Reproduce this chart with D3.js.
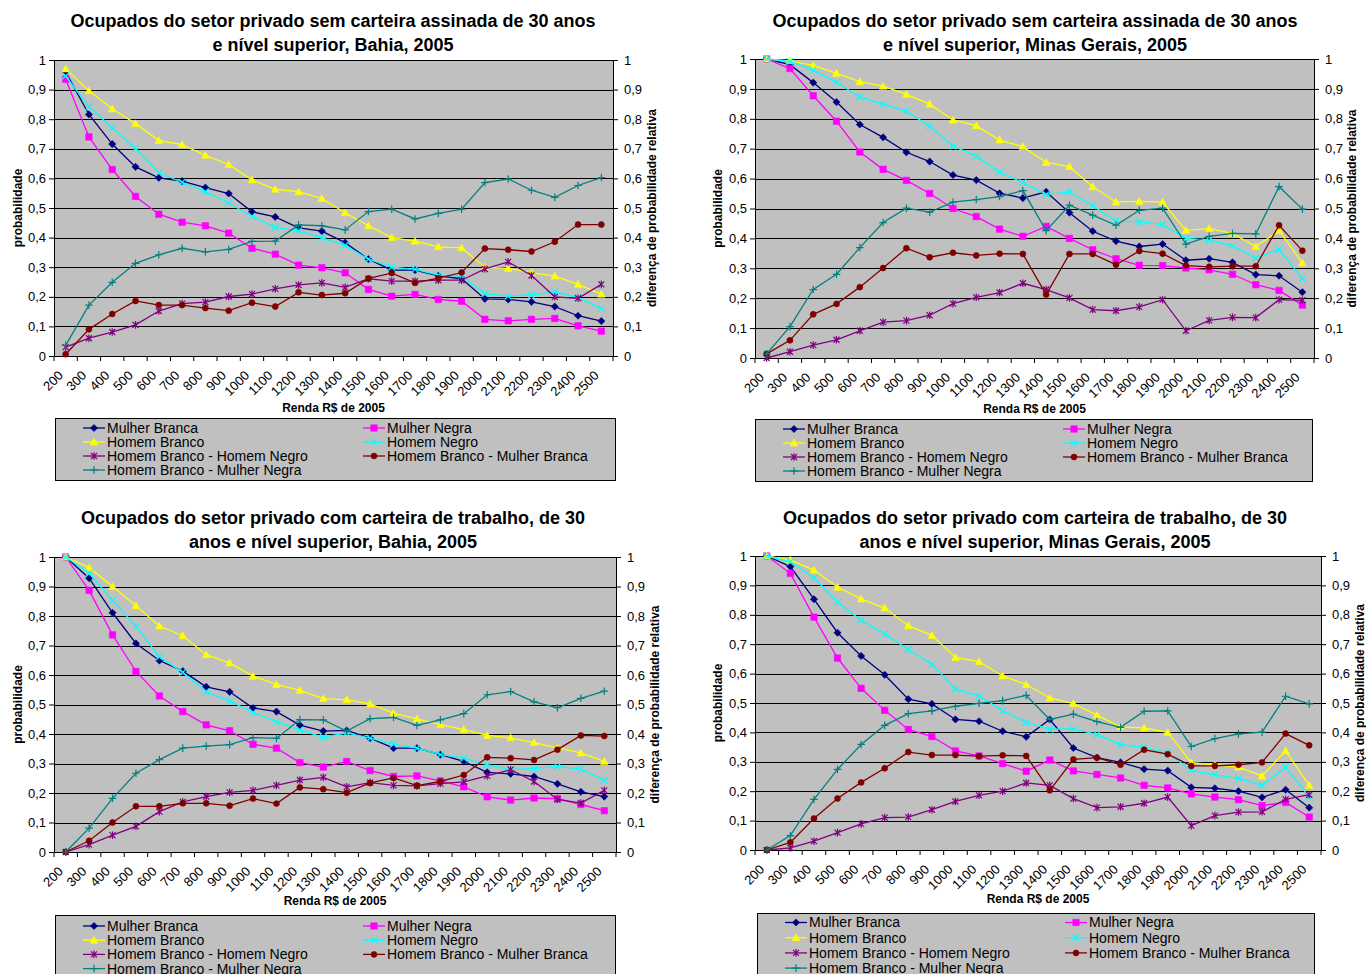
<!DOCTYPE html>
<html>
<head>
<meta charset="utf-8">
<script src="https://cdn.jsdelivr.net/npm/d3@7"></script>
<style>
  body { margin: 0; background: #fff; }
  svg text { font-family: "Liberation Sans", Arial, sans-serif; fill: #000; }
</style>
</head>
<body>
<div id="canvas"></div>
<script>
// DATA
const incomeLabels = ["200","300","400","500","600","700","800","900","1000","1100","1200","1300",
  "1400","1500","1600","1700","1800","1900","2000","2100","2200","2300","2400","2500"];

const seriesNames = ["Mulher Branca", "Mulher Negra", "Homem Branco", "Homem Negro",
  "Homem Branco - Homem Negro", "Homem Branco - Mulher Branca", "Homem Branco - Mulher Negra"];

// Bahia, sem carteira
const baSemMB = [0.96,0.816,0.716,0.639,0.602,0.591,0.569,0.549,0.487,0.47,0.433,0.422,0.383,0.327,0.29,0.29,0.271,0.261,0.193,0.191,0.183,0.167,0.136,0.118];
const baSemMN = [0.935,0.74,0.63,0.539,0.479,0.452,0.44,0.415,0.364,0.344,0.307,0.298,0.281,0.225,0.202,0.208,0.191,0.185,0.124,0.119,0.124,0.127,0.102,0.084];
const baSemHB = [0.97,0.896,0.835,0.785,0.728,0.714,0.678,0.647,0.595,0.563,0.555,0.532,0.484,0.44,0.4,0.388,0.369,0.365,0.3,0.296,0.282,0.27,0.242,0.209];
const baSemHN = [0.946,0.842,0.771,0.701,0.619,0.587,0.555,0.517,0.472,0.435,0.423,0.399,0.374,0.327,0.3,0.293,0.273,0.27,0.211,0.202,0.206,0.217,0.197,0.16];
const baSemHBHN = [0.03,0.06,0.081,0.105,0.152,0.177,0.182,0.201,0.209,0.227,0.24,0.247,0.232,0.261,0.253,0.253,0.256,0.256,0.294,0.318,0.272,0.2,0.195,0.242];
const baSemHBMB = [0.006,0.09,0.142,0.186,0.172,0.172,0.162,0.153,0.18,0.167,0.215,0.206,0.212,0.262,0.28,0.247,0.263,0.282,0.363,0.359,0.353,0.386,0.444,0.444];
const baSemHBMN = [0.036,0.172,0.249,0.313,0.342,0.364,0.352,0.36,0.387,0.388,0.443,0.44,0.426,0.488,0.496,0.463,0.482,0.496,0.586,0.598,0.56,0.536,0.576,0.603];

// Minas Gerais, sem carteira
const mgSemMB = [1.0,0.981,0.921,0.856,0.781,0.738,0.688,0.657,0.612,0.595,0.551,0.535,0.556,0.486,0.424,0.391,0.373,0.381,0.327,0.332,0.32,0.279,0.275,0.22];
const mgSemMN = [1.0,0.968,0.877,0.792,0.689,0.631,0.594,0.55,0.5,0.473,0.431,0.407,0.44,0.4,0.362,0.332,0.31,0.309,0.301,0.295,0.28,0.245,0.226,0.177];
const mgSemHB = [1.0,0.994,0.979,0.952,0.924,0.909,0.882,0.849,0.796,0.777,0.729,0.707,0.654,0.64,0.573,0.522,0.524,0.521,0.427,0.433,0.417,0.373,0.426,0.318];
const mgSemHN = [1.0,0.992,0.963,0.922,0.873,0.849,0.825,0.775,0.709,0.675,0.621,0.587,0.547,0.555,0.509,0.458,0.456,0.446,0.4,0.394,0.375,0.334,0.363,0.266];
const mgSemHBHN = [0,0.021,0.043,0.061,0.091,0.12,0.125,0.143,0.182,0.203,0.219,0.25,0.229,0.201,0.162,0.158,0.171,0.195,0.091,0.126,0.136,0.135,0.195,0.193];
const mgSemHBMB = [0.014,0.059,0.146,0.181,0.237,0.301,0.367,0.337,0.352,0.343,0.349,0.348,0.212,0.348,0.348,0.312,0.358,0.349,0.309,0.305,0.307,0.307,0.444,0.359];
const mgSemHBMN = [0.014,0.105,0.229,0.28,0.369,0.453,0.501,0.488,0.521,0.53,0.54,0.56,0.426,0.511,0.478,0.444,0.494,0.501,0.381,0.407,0.417,0.415,0.573,0.498];

// Bahia, com carteira
const baComMB = [1.0,0.928,0.811,0.707,0.649,0.613,0.56,0.543,0.488,0.476,0.43,0.41,0.412,0.386,0.352,0.352,0.33,0.307,0.27,0.265,0.256,0.231,0.204,0.188];
const baComMN = [1.0,0.887,0.736,0.612,0.529,0.476,0.431,0.411,0.365,0.352,0.303,0.288,0.307,0.276,0.256,0.258,0.241,0.221,0.187,0.176,0.183,0.181,0.161,0.14];
const baComHB = [1.0,0.964,0.9,0.835,0.766,0.733,0.669,0.641,0.596,0.568,0.548,0.52,0.516,0.502,0.471,0.451,0.432,0.415,0.395,0.387,0.371,0.353,0.336,0.307];
const baComHN = [1.0,0.945,0.853,0.765,0.662,0.609,0.543,0.512,0.473,0.441,0.414,0.389,0.404,0.386,0.365,0.352,0.33,0.318,0.296,0.279,0.283,0.29,0.281,0.243];
const baComHBHN = [0,0.025,0.057,0.087,0.137,0.17,0.188,0.202,0.209,0.226,0.244,0.253,0.221,0.235,0.226,0.224,0.232,0.238,0.258,0.279,0.239,0.178,0.166,0.209];
const baComHBMB = [0,0.038,0.1,0.155,0.155,0.165,0.165,0.157,0.181,0.164,0.219,0.213,0.201,0.234,0.251,0.225,0.239,0.261,0.321,0.318,0.312,0.347,0.395,0.393];
const baComHBMN = [0,0.081,0.182,0.267,0.313,0.352,0.359,0.364,0.388,0.385,0.449,0.448,0.41,0.452,0.456,0.429,0.448,0.469,0.533,0.544,0.509,0.489,0.521,0.545];

// Minas Gerais, com carteira
const mgComMB = [1.0,0.964,0.853,0.739,0.66,0.596,0.513,0.497,0.444,0.438,0.404,0.385,0.444,0.347,0.314,0.298,0.275,0.27,0.213,0.21,0.2,0.179,0.205,0.144];
const mgComMN = [1.0,0.941,0.792,0.653,0.55,0.475,0.41,0.386,0.337,0.32,0.294,0.268,0.306,0.269,0.257,0.245,0.22,0.211,0.191,0.18,0.171,0.151,0.162,0.112];
const mgComHB = [1.0,0.986,0.952,0.894,0.854,0.823,0.763,0.73,0.655,0.641,0.592,0.563,0.517,0.498,0.459,0.419,0.415,0.4,0.297,0.29,0.282,0.252,0.337,0.22];
const mgComHN = [1.0,0.981,0.926,0.843,0.781,0.735,0.682,0.632,0.548,0.524,0.474,0.434,0.411,0.412,0.393,0.358,0.349,0.33,0.271,0.256,0.244,0.22,0.281,0.18];
const mgComHBHN = [0,0.007,0.03,0.059,0.089,0.11,0.112,0.137,0.165,0.186,0.2,0.228,0.22,0.175,0.144,0.147,0.159,0.18,0.083,0.117,0.129,0.13,0.172,0.188];
const mgComHBMB = [0,0.026,0.107,0.175,0.23,0.278,0.333,0.323,0.323,0.319,0.322,0.32,0.203,0.308,0.314,0.29,0.341,0.326,0.286,0.286,0.29,0.298,0.396,0.356];
const mgComHBMN = [0,0.049,0.172,0.274,0.359,0.424,0.464,0.473,0.489,0.499,0.508,0.526,0.444,0.462,0.437,0.417,0.472,0.473,0.352,0.379,0.395,0.401,0.523,0.497];

// STYLES
const seriesColors = ["#000080", "#FF00FF", "#FFFF00", "#00FFFF", "#800080", "#800000", "#008080"];
const seriesMarkers = ["diamond", "square", "triangle", "xmark", "star", "circle", "plus"];

// marker paths, centred on 0,0
function markerPath(kind) {
  switch (kind) {
    case "diamond": return "M0,-3.6L3.6,0L0,3.6L-3.6,0Z";
    case "square": return "M-3.2,-3.2H3.2V3.2H-3.2Z";
    case "triangle": return "M0,-3.8L3.8,3L-3.8,3Z";
    case "circle": return d3.symbol(d3.symbolCircle, 28)();
    case "xmark": return "M-3.3,-3.3L3.3,3.3M-3.3,3.3L3.3,-3.3";
    case "star": return "M-3,-3L3,3M-3,3L3,-3M0,-3.8V3.8";
    case "plus": return "M-3.8,0H3.8M0,-3.8V3.8";
  }
}
const filledMarkers = ["diamond", "square", "triangle", "circle"];

// PANELS
const panels = [
  { title: ["Ocupados do setor privado sem carteira assinada de 30 anos", "e nível superior, Bahia, 2005"],
    titleX: 333, titleY: 27, left: 54, right: 613, top: 60, bottom: 356,
    yTitleL: 18, yTitleR: 652, xTitleY: 412,
    legend: { x: 55, y: 418, w: 560, h: 62, row0: 10, step: 14 },
    series: [baSemMB, baSemMN, baSemHB, baSemHN, baSemHBHN, baSemHBMB, baSemHBMN] },
  { title: ["Ocupados do setor privado sem carteira assinada de 30 anos", "e nível superior, Minas Gerais, 2005"],
    titleX: 1035, titleY: 27, left: 755, right: 1314, top: 59, bottom: 358,
    yTitleL: 718, yTitleR: 1352, xTitleY: 413,
    legend: { x: 755, y: 419, w: 557, h: 62, row0: 10, step: 14 },
    series: [mgSemMB, mgSemMN, mgSemHB, mgSemHN, mgSemHBHN, mgSemHBMB, mgSemHBMN] },
  { title: ["Ocupados do setor privado com carteira de trabalho, de 30", "anos e nível superior, Bahia, 2005"],
    titleX: 333, titleY: 524, left: 54, right: 616, top: 557, bottom: 852,
    yTitleL: 18, yTitleR: 655, xTitleY: 905,
    legend: { x: 55, y: 915, w: 560, h: 70, row0: 11, step: 14.2 },
    series: [baComMB, baComMN, baComHB, baComHN, baComHBHN, baComHBMB, baComHBMN] },
  { title: ["Ocupados do setor privado com carteira de trabalho, de 30", "anos e nível superior, Minas Gerais, 2005"],
    titleX: 1035, titleY: 524, left: 755, right: 1321, top: 556, bottom: 850,
    yTitleL: 718, yTitleR: 1360, xTitleY: 903,
    legend: { x: 757, y: 913, w: 557, h: 70, row0: 9.5, step: 15.2 },
    series: [mgComMB, mgComMN, mgComHB, mgComHN, mgComHBHN, mgComHBMB, mgComHBMN] }
];

// CANVAS
const width = 1366;
const height = 974;

const canvas = d3.select("#canvas")
  .append("svg")
  .attr("width", width)
  .attr("height", height);

const ptLocale = d3.formatLocale({ decimal: ",", thousands: ".", grouping: [3], currency: ["R$", ""] });
const tickFormatter = ptLocale.format("~g");

function drawPanel(p) {
  const g = canvas.append("g");

  // SCALES
  const scaleX = d3.scaleBand(incomeLabels, [p.left, p.right]);
  const scaleY = d3.scaleLinear().domain([0, 1]).range([p.bottom, p.top]);
  const yTicks = scaleY.ticks(10);

  // PLOT AREA
  g.append("rect")
    .attr("x", p.left).attr("y", p.top)
    .attr("width", p.right - p.left).attr("height", p.bottom - p.top)
    .attr("fill", "#C0C0C0");

  g.append("g")
    .selectAll("line")
    .data(yTicks.filter(d => d > 0))
    .join("line")
    .attr("x1", p.left).attr("x2", p.right)
    .attr("y1", d => Math.round(scaleY(d)) + 0.5).attr("y2", d => Math.round(scaleY(d)) + 0.5)
    .attr("stroke", "#000")
    .attr("stroke-width", 1);

  // AXES
  const yAxL = g.append("g")
    .attr("transform", `translate(${p.left},0)`)
    .call(d3.axisLeft(scaleY).tickValues(yTicks).tickFormat(tickFormatter).tickSize(5).tickPadding(3).tickSizeOuter(0));

  const yAxR = g.append("g")
    .attr("transform", `translate(${p.right},0)`)
    .call(d3.axisRight(scaleY).tickValues(yTicks).tickFormat(tickFormatter).tickSize(5).tickPadding(6).tickSizeOuter(0));

  const xAx = g.append("g")
    .attr("transform", `translate(0,${p.bottom})`)
    .call(d3.axisBottom(scaleX).tickSize(0).tickSizeOuter(0));

  xAx.selectAll("text")
    .attr("y", 0).attr("dy", "0.35em")
    .attr("text-anchor", "end")
    .attr("transform", "translate(-5,17) rotate(-45)");

  // tick marks between categories
  xAx.append("g")
    .selectAll("line")
    .data(incomeLabels.concat([null]))
    .join("line")
    .attr("x1", d => d === null ? p.right : scaleX(d))
    .attr("x2", d => d === null ? p.right : scaleX(d))
    .attr("y1", 0).attr("y2", 5)
    .attr("stroke", "#000");

  [yAxL, yAxR, xAx].forEach(a => {
    a.select(".domain").attr("stroke", "#000");
    a.selectAll(".tick line").attr("stroke", "#000");
    a.selectAll("text").attr("font-size", 13).attr("fill", "#000")
      .style("font-family", '"Liberation Sans", Arial, sans-serif');
  });

  // SERIES
  const line = d3.line()
    .x((d, i) => scaleX(incomeLabels[i]) + scaleX.bandwidth() / 2)
    .y(d => scaleY(d));

  p.series.forEach((values, s) => {
    const sg = g.append("g");
    sg.append("path")
      .datum(values)
      .attr("d", line)
      .attr("fill", "none")
      .attr("stroke", seriesColors[s])
      .attr("stroke-width", 1.3);

    const filled = filledMarkers.includes(seriesMarkers[s]);
    sg.selectAll("path.mk")
      .data(values)
      .join("path")
      .attr("class", "mk")
      .attr("d", markerPath(seriesMarkers[s]))
      .attr("transform", (d, i) => `translate(${scaleX(incomeLabels[i]) + scaleX.bandwidth() / 2},${scaleY(d)})`)
      .attr("fill", filled ? seriesColors[s] : "none")
      .attr("stroke", seriesColors[s])
      .attr("stroke-width", filled ? 0.6 : 1.2);
  });

  // TITLES
  g.append("text")
    .attr("x", p.titleX).attr("y", p.titleY)
    .attr("text-anchor", "middle")
    .attr("font-size", 18).attr("font-weight", "bold")
    .selectAll("tspan")
    .data(p.title)
    .join("tspan")
    .attr("x", p.titleX)
    .attr("dy", (d, i) => i === 0 ? 0 : 24)
    .text(d => d);

  const midY = (p.top + p.bottom) / 2;

  g.append("text")
    .attr("transform", `translate(${p.yTitleL},${midY}) rotate(-90)`)
    .attr("text-anchor", "middle").attr("dy", "0.35em")
    .attr("font-size", 12).attr("font-weight", "bold")
    .text("probabilidade");

  g.append("text")
    .attr("transform", `translate(${p.yTitleR},${midY}) rotate(-90)`)
    .attr("text-anchor", "middle").attr("dy", "0.35em")
    .attr("font-size", 12).attr("font-weight", "bold")
    .text("diferença de probabilidade relativa");

  g.append("text")
    .attr("x", (p.left + p.right) / 2).attr("y", p.xTitleY)
    .attr("text-anchor", "middle")
    .attr("font-size", 12).attr("font-weight", "bold")
    .text("Renda R$ de 2005");

  // LEGEND
  const L = p.legend;
  const legend = g.append("g").attr("class", "legend");

  legend.append("rect")
    .attr("x", L.x + 0.5).attr("y", L.y + 0.5)
    .attr("width", L.w).attr("height", L.h)
    .attr("fill", "#C0C0C0")
    .attr("stroke", "#000");

  const items = legend.selectAll("g.item")
    .data(seriesNames)
    .join("g")
    .attr("class", "item")
    .attr("transform", (d, i) => `translate(${L.x + (i % 2 === 0 ? 28 : 308)},${L.y + L.row0 + Math.floor(i / 2) * L.step})`);

  items.append("line")
    .attr("x1", 0).attr("x2", 22)
    .attr("stroke", (d, i) => seriesColors[i])
    .attr("stroke-width", 1.3);

  items.append("path")
    .attr("d", (d, i) => markerPath(seriesMarkers[i]))
    .attr("transform", "translate(11,0)")
    .attr("fill", (d, i) => filledMarkers.includes(seriesMarkers[i]) ? seriesColors[i] : "none")
    .attr("stroke", (d, i) => seriesColors[i])
    .attr("stroke-width", (d, i) => filledMarkers.includes(seriesMarkers[i]) ? 0.6 : 1.2);

  items.append("text")
    .attr("x", 24).attr("dy", "0.35em")
    .attr("font-size", 14)
    .text(d => d);
}

panels.forEach(drawPanel);
</script>
</body>
</html>
